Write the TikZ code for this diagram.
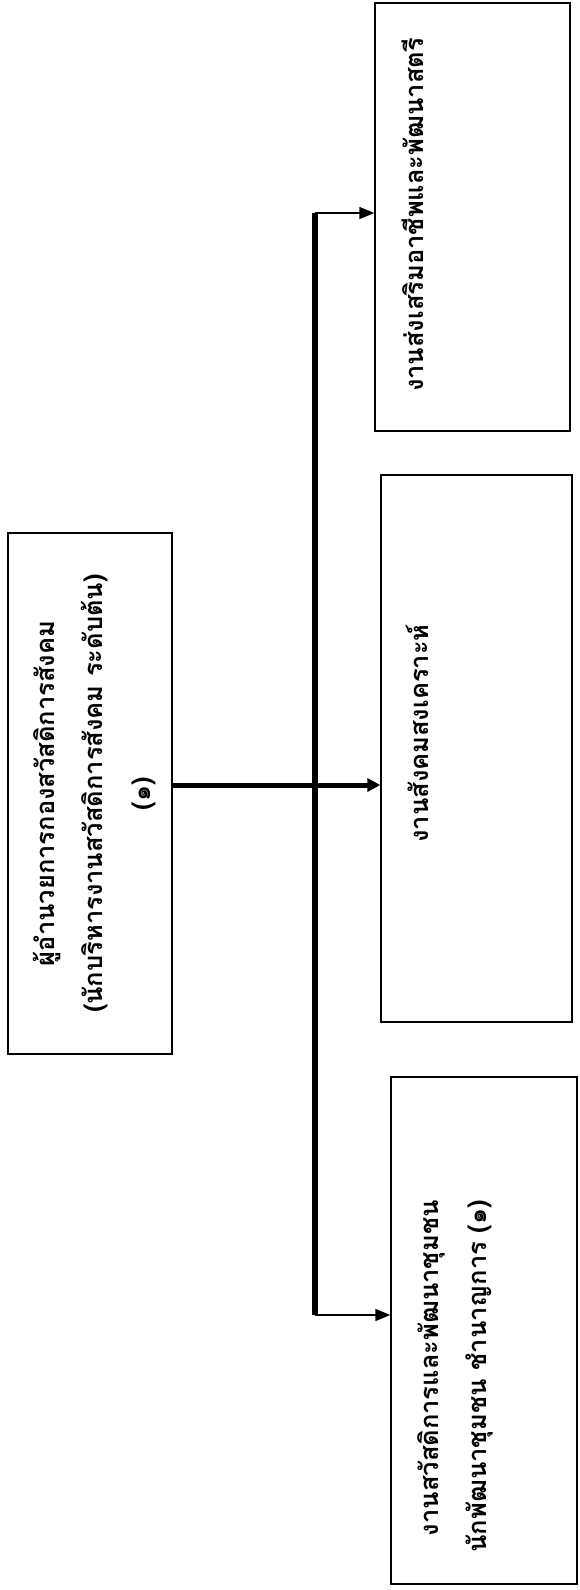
\documentclass[tikz,border=0pt]{standalone}
\usepackage{fontspec}
\newfontfamily\thaifont[Script=Thai]{Loma}
\usetikzlibrary{arrows.meta}

\tikzset{
  box/.style={draw, line width=1.3pt, inner sep=0pt},
  lbl/.style={rotate=90, inner sep=0pt, align=center,
    font=\thaifont\bfseries\fontsize{25.5}{48}\selectfont},
  link/.style={line width=1.4pt, -{Triangle[length=15pt,width=12pt]}},
}

\begin{document}
\begin{tikzpicture}[x=1pt,y=-1pt]
  \useasboundingbox (0,0) rectangle (579,1590);
  % boxes
  \node[box, minimum width=164pt, minimum height=521pt] (head) at (90,793.5) {};
  \node[box, minimum width=195pt, minimum height=428pt] (work1) at (472.5,217) {};
  \node[box, minimum width=191pt, minimum height=547pt] (work2) at (476.5,748.5) {};
  \node[box, minimum width=186pt, minimum height=507pt] (work3) at (484,1330.5) {};
  % texts
  \node[lbl, anchor=north] (headtxt) at ([xshift=26pt]head.west)
    {ผู้อำนวยการกองสวัสดิการสังคม\\(นักบริหารงานสวัสดิการสังคม ระดับต้น)\\(๑)};
  \node[lbl, anchor=north] (work1txt) at ([xshift=27pt,yshift=2pt]work1.west) {งานส่งเสริมอาชีพและพัฒนาสตรี};
  \node[lbl, anchor=north] (work2txt) at ([xshift=26pt,yshift=15pt]work2.west) {งานสังคมสงเคราะห์};
  \node[lbl, anchor=north east, align=right] (work3txt) at ([xshift=27pt]work3.west |- 0,1200)
    {งานสวัสดิการและพัฒนาชุมชน\\นักพัฒนาชุมชน ชำนาญการ (๑)};
  % connectors
  \coordinate (top) at (315,213);
  \coordinate (bottom) at (315,1315);
  \coordinate (mid) at (172,785);
  \draw[line width=6pt] (top) -- (bottom);
  \draw[link] (top) -- (top -| work1.west);
  \draw[link] (bottom) -- (bottom -| work3.west);
  \draw[line width=5pt, -{Triangle[length=13pt,width=13pt]}] (mid) -- (mid -| work2.west);
\end{tikzpicture}
\end{document}
